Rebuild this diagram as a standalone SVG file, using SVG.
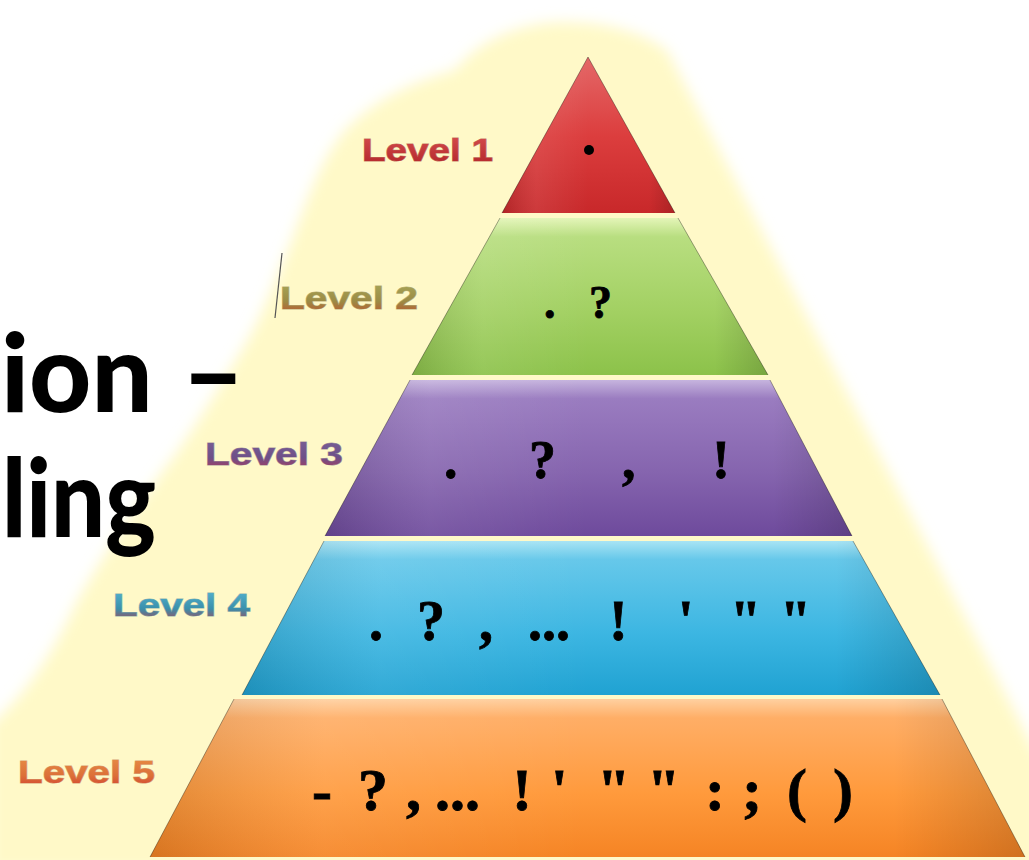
<svg xmlns="http://www.w3.org/2000/svg" width="1029" height="860" viewBox="0 0 1029 860">
<style>
.big{font-family:Lato,"DejaVu Sans",sans-serif;font-weight:900;font-size:108px;fill:#000}
.lvl{font-family:"Liberation Sans",Arial,sans-serif;font-weight:700;font-size:32px;stroke-width:1.1;paint-order:stroke}
.p{font-family:"Liberation Serif","Times New Roman",serif;font-weight:700;fill:#000;stroke:#000;stroke-width:0.8}
.edge{fill:none;stroke:#000;stroke-opacity:0.35;stroke-width:1}
</style>
<defs>
<filter id="blur" x="-10%" y="-10%" width="120%" height="120%"><feGaussianBlur stdDeviation="7"/></filter>
<linearGradient id="gRed" x1="0" y1="0" x2="0" y2="1">
<stop offset="0" stop-color="#e46868"/><stop offset="0.5" stop-color="#dc3e3e"/><stop offset="1" stop-color="#c8282a"/>
</linearGradient>
<linearGradient id="gGreen" x1="0" y1="0" x2="0" y2="1">
<stop offset="0" stop-color="#e4f5b8"/><stop offset="0.12" stop-color="#b8de80"/><stop offset="0.6" stop-color="#a2d062"/><stop offset="1" stop-color="#8cc24a"/>
</linearGradient>
<linearGradient id="gPurple" x1="0" y1="0" x2="0" y2="1">
<stop offset="0" stop-color="#c6b4de"/><stop offset="0.12" stop-color="#9a7cc0"/><stop offset="0.6" stop-color="#8564ae"/><stop offset="1" stop-color="#6e4a9c"/>
</linearGradient>
<linearGradient id="gBlue" x1="0" y1="0" x2="0" y2="1">
<stop offset="0" stop-color="#a8e4f4"/><stop offset="0.12" stop-color="#66c8ea"/><stop offset="0.6" stop-color="#3cb6e2"/><stop offset="1" stop-color="#20a2d2"/>
</linearGradient>
<linearGradient id="gOrange" x1="0" y1="0" x2="0" y2="1">
<stop offset="0" stop-color="#ffd0a0"/><stop offset="0.12" stop-color="#ffae66"/><stop offset="0.6" stop-color="#ff9a3c"/><stop offset="1" stop-color="#f58424"/>
</linearGradient>
<linearGradient id="shade" x1="0" y1="0" x2="1" y2="0">
<stop offset="0" stop-color="#000" stop-opacity="0.12"/><stop offset="0.2" stop-color="#fff" stop-opacity="0.08"/><stop offset="0.5" stop-color="#fff" stop-opacity="0"/><stop offset="0.85" stop-color="#000" stop-opacity="0"/><stop offset="1" stop-color="#000" stop-opacity="0.15"/>
</linearGradient>
<linearGradient id="t1" x1="0" y1="0" x2="0" y2="1"><stop offset="0" stop-color="#d85050"/><stop offset="1" stop-color="#b02428"/></linearGradient>
<linearGradient id="t2" x1="0" y1="0" x2="0" y2="1"><stop offset="0" stop-color="#a8aa5a"/><stop offset="0.6" stop-color="#9c8a44"/><stop offset="1" stop-color="#c0502c"/></linearGradient>
<linearGradient id="t3" x1="0" y1="0" x2="0" y2="1"><stop offset="0" stop-color="#7a6298"/><stop offset="0.6" stop-color="#6e5088"/><stop offset="1" stop-color="#b03a58"/></linearGradient>
<linearGradient id="t4" x1="0" y1="0" x2="0" y2="1"><stop offset="0" stop-color="#58b8d4"/><stop offset="0.6" stop-color="#3a90ac"/><stop offset="1" stop-color="#b04050"/></linearGradient>
<linearGradient id="t5" x1="0" y1="0" x2="0" y2="1"><stop offset="0" stop-color="#e89048"/><stop offset="0.6" stop-color="#dc7038"/><stop offset="1" stop-color="#d03c30"/></linearGradient>
</defs>

<rect width="1029" height="860" fill="#ffffff"/>

<!-- yellow backdrop -->
<path d="M455,70 C480,40 520,22 565,22 C610,22 650,35 668,52 L1040,760 L1040,870 L-10,870 L-10,725 C20,700 50,660 75,605 C100,560 140,500 175,455 C200,420 220,385 245,345 C265,310 275,280 290,245 C305,205 320,160 345,130 C380,95 420,80 455,70 Z" fill="#fff9c8" filter="url(#blur)"/>

<!-- big partial title -->
<g id="title">
<text class="big" x="1" y="412">ion<tspan x="182">–</tspan></text>
<text class="big" x="2" y="537" textLength="154" lengthAdjust="spacingAndGlyphs">ling</text>
</g>

<g id="connectors"></g>

<g id="level1">
<path d="M588,57 L675,213 L502,213 Z" fill="url(#gRed)"/>
<path d="M588,57 L675,213 L502,213 Z" fill="url(#shade)"/>
<path class="edge" d="M502,213 L588,57 L675,213"/>
<circle cx="589" cy="150" r="5" fill="#000"/>
<text class="lvl" x="362" y="161" textLength="131" lengthAdjust="spacingAndGlyphs" fill="url(#t1)" stroke="#9a2424" stroke-opacity="0.6">Level 1</text>
</g>

<g id="level2">
<path d="M500,218 L678,218 L768,375 L412,375 Z" fill="url(#gGreen)"/>
<path d="M500,218 L678,218 L768,375 L412,375 Z" fill="url(#shade)"/>
<path class="edge" d="M412,375 L500,218 M678,218 L768,375"/>
<text class="p" font-size="46" y="318"><tspan x="544">.</tspan><tspan x="589">?</tspan></text>
<line x1="282" y1="253" x2="275" y2="318" stroke="#555" stroke-width="1.2"/>
<text class="lvl" x="280" y="309" textLength="138" lengthAdjust="spacingAndGlyphs" fill="url(#t2)" stroke="#7a6a30" stroke-opacity="0.5">Level 2</text>
</g>

<g id="level3">
<path d="M410,380 L770,380 L852,536 L325,536 Z" fill="url(#gPurple)"/>
<path d="M410,380 L770,380 L852,536 L325,536 Z" fill="url(#shade)"/>
<path class="edge" d="M325,536 L410,380 M770,380 L852,536"/>
<text class="p" font-size="54" y="478"><tspan x="444">.</tspan><tspan x="529">?</tspan><tspan x="622">,</tspan><tspan x="712">!</tspan></text>
<text class="lvl" x="205" y="465" textLength="138" lengthAdjust="spacingAndGlyphs" fill="url(#t3)" stroke="#5a3a70" stroke-opacity="0.5">Level 3</text>
</g>

<g id="level4">
<path d="M324,541 L853,541 L940,695 L242,695 Z" fill="url(#gBlue)"/>
<path d="M324,541 L853,541 L940,695 L242,695 Z" fill="url(#shade)"/>
<path class="edge" d="M242,695 L324,541 M853,541 L940,695"/>
<text class="p" font-size="56" y="640"><tspan x="369">.</tspan><tspan x="417">?</tspan><tspan x="479">,</tspan><tspan x="528">...</tspan><tspan x="609">!</tspan><tspan x="678">'</tspan><tspan x="730">"</tspan><tspan x="780">"</tspan></text>
<text class="lvl" x="113" y="616" textLength="137" lengthAdjust="spacingAndGlyphs" fill="url(#t4)" stroke="#2a7090" stroke-opacity="0.5">Level 4</text>
</g>

<g id="level5">
<path d="M234,699 L942,699 L1025,857 L150,857 Z" fill="url(#gOrange)"/>
<path d="M234,699 L942,699 L1025,857 L150,857 Z" fill="url(#shade)"/>
<path class="edge" d="M150,857 L234,699 M942,699 L1025,857"/>
<text class="p" font-size="60" y="810"><tspan x="312">-</tspan><tspan x="358">?</tspan><tspan x="406">,</tspan><tspan x="435">...</tspan><tspan x="512">!</tspan><tspan x="551">'</tspan><tspan x="597">"</tspan><tspan x="647">"</tspan><tspan x="705">:</tspan><tspan x="742">;</tspan><tspan x="787">(</tspan><tspan x="833">)</tspan></text>
<text class="lvl" x="18" y="783" textLength="137" lengthAdjust="spacingAndGlyphs" fill="url(#t5)" stroke="#b04a24" stroke-opacity="0.5">Level 5</text>
</g>
</svg>
